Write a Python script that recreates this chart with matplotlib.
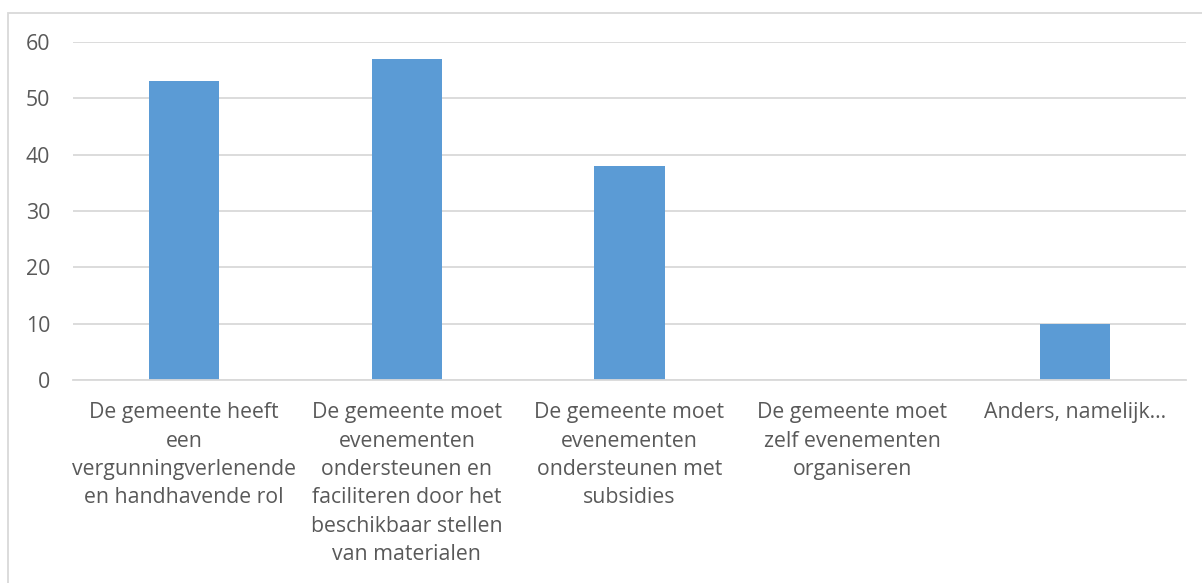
"""Excel-style bar chart: rol van de gemeente bij evenementen."""

import matplotlib

matplotlib.use("Agg")
import matplotlib.pyplot as plt
from matplotlib.patches import Rectangle

categories = [
    "De gemeente heeft\neen\nvergunningverlenende\nen handhavende rol",
    "De gemeente moet\nevenementen\nondersteunen en\nfaciliteren door het\nbeschikbaar stellen\nvan materialen",
    "De gemeente moet\nevenementen\nondersteunen met\nsubsidies",
    "De gemeente moet\nzelf evenementen\norganiseren",
    "Anders, namelijk...",
]
values = [53, 57, 38, 0, 10]
y_ticks = [0, 10, 20, 30, 40, 50, 60]

BAR_COLOR = "#5b9bd5"
GRID_COLOR = "#d9d9d9"
TEXT_COLOR = "#595959"

W, H = 1202, 583
plt.rcParams["font.family"] = ["Open Sans", "DejaVu Sans"]

fig = plt.figure(figsize=(W / 100, H / 100), dpi=100)
ax = fig.add_axes([73 / W, 1 - 380 / H, (1186 - 73) / W, (380 - 42) / H])

x = range(len(categories))
ax.bar(x, values, width=0.315, color=BAR_COLOR, zorder=2)

ax.set_xlim(-0.5, len(categories) - 0.5)
ax.set_ylim(0, 60)
ax.set_yticks(y_ticks)
ax.set_xticks(list(x))
ax.set_xticklabels(categories, linespacing=1.46)
ax.grid(axis="y", color=GRID_COLOR, linewidth=1.3, zorder=0)
ax.set_axisbelow(True)

for side in ("top", "right", "left"):
    ax.spines[side].set_visible(False)
ax.spines["bottom"].set_color(GRID_COLOR)
ax.spines["bottom"].set_linewidth(1.3)

ax.tick_params(axis="both", length=0, colors=TEXT_COLOR, labelsize=15.3)
ax.tick_params(axis="x", pad=16)
ax.tick_params(axis="y", pad=16.5)
for label in ax.get_yticklabels():
    label.set_horizontalalignment("right")

# chart area border (clipped at right and bottom in the original)
fig.patches.append(
    Rectangle((8 / W, -0.05), 1.1, 1 - 13 / H + 0.05, transform=fig.transFigure,
              fill=False, edgecolor=GRID_COLOR, linewidth=1.3)
)

fig.savefig("out.png", dpi=100)
